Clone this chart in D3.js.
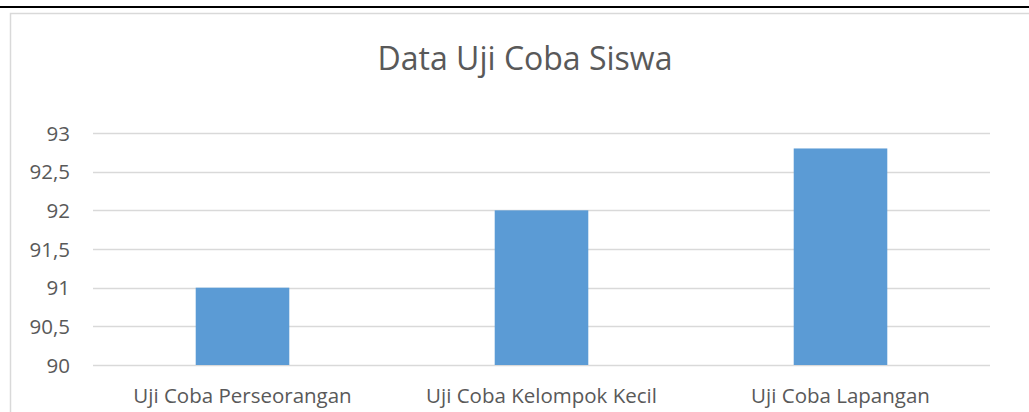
<!DOCTYPE html>
<html>
<head>
<meta charset="utf-8">
<script src="https://cdn.jsdelivr.net/npm/d3@7"></script>
<style>
  html, body { margin: 0; padding: 0; background: #fff; }
  svg { display: block; }
  text { font-family: "Open Sans", sans-serif; fill: #595959; }
</style>
</head>
<body>
<svg id="chart" width="1029" height="412"></svg>
<script>
const title = "Data Uji Coba Siswa";
const categories = ["Uji Coba Perseorangan", "Uji Coba Kelompok Kecil", "Uji Coba Lapangan"];
const values = [91, 92, 92.8];
const yTicks = [90, 90.5, 91, 91.5, 92, 92.5, 93];

const svg = d3.select("#chart");
const W = 1029, H = 412;
const plot = { left: 93, right: 990, top: 133, bottom: 365 };

// outer decorations
svg.append("line").attr("x1", 0).attr("x2", W).attr("y1", 7).attr("y2", 7)
  .attr("stroke", "#000").attr("stroke-width", 2);
svg.append("path").attr("d", `M10.5,${H} V13.5 H${W}`)
  .attr("fill", "none").attr("stroke", "#D9D9D9").attr("stroke-width", 1.5);

const x = d3.scaleBand().domain(categories).range([plot.left, plot.right])
  .paddingInner(0.687).paddingOuter(0.3435);
const y = d3.scaleLinear().domain([90, 93]).range([plot.bottom, plot.top]);

// gridlines
svg.append("g").selectAll("line").data(yTicks).join("line")
  .attr("x1", plot.left).attr("x2", plot.right)
  .attr("y1", d => Math.round(y(d)) + 0.5).attr("y2", d => Math.round(y(d)) + 0.5)
  .attr("stroke", "#D9D9D9").attr("stroke-width", 1.3);

// bars
svg.append("g").selectAll("rect").data(values).join("rect")
  .attr("x", (d, i) => x(categories[i]))
  .attr("width", x.bandwidth())
  .attr("y", d => y(d))
  .attr("height", d => y(90) - y(d))
  .attr("fill", "#5B9BD5");

// y axis labels
const fmt = d => d3.format("")(d).replace(".", ",");
const yAxis = d3.axisLeft(y).tickValues(yTicks).tickFormat(fmt).tickSize(0).tickPadding(0);
const gy = svg.append("g").attr("transform", `translate(70,0)`).call(yAxis);
gy.select(".domain").remove();
gy.selectAll("text").style("font-family", "'Open Sans', sans-serif")
  .style("font-size", "20.5px").attr("fill", "#595959").attr("dy", "0.35em");

// x axis labels
const xAxis = d3.axisBottom(x).tickSize(0).tickPadding(0);
const gx = svg.append("g").attr("transform", `translate(0,${plot.bottom})`).call(xAxis);
gx.select(".domain").remove();
gx.selectAll("text").style("font-family", "'Open Sans', sans-serif")
  .style("font-size", "20.5px").attr("fill", "#595959").attr("dy", null).attr("y", 38);

// title
svg.append("text").attr("x", 525).attr("y", 70).attr("text-anchor", "middle")
  .style("font-size", "32px").text(title);
</script>
</body>
</html>
